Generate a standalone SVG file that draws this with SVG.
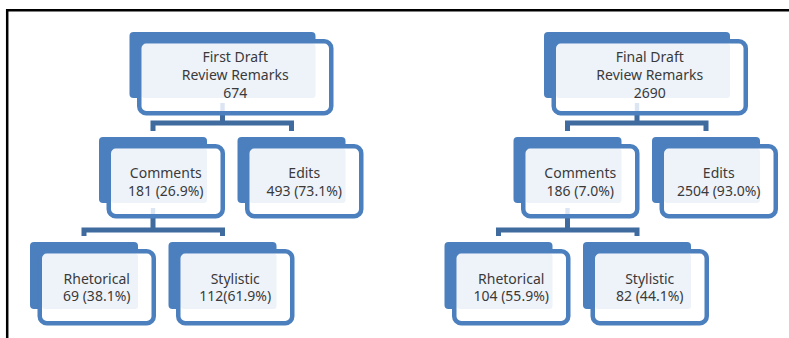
<svg xmlns="http://www.w3.org/2000/svg" width="789" height="338" viewBox="0 0 789 338">
<style>
.back{fill:#4B7FBE}
.face{fill:#FFFFFF}
.tint{fill:#EEF3FA}
.stub{fill:#DCE6F2}
.frame{fill:none;stroke:#4B7FBE;stroke-width:4.5}
.conn{fill:none;stroke:#3F6B9E;stroke-width:5}
text{font-family:"Noto Sans","Open Sans","Liberation Sans",sans-serif;font-size:14px;fill:#3A3A3A;text-anchor:middle}
</style>
<rect width="789" height="338" fill="#FFFFFF"/>
<path d="M7.2,338 V10.3 H789" fill="none" stroke="#000000" stroke-width="2.5"/>
<g id="connectors">
<path class="conn" d="M222.5,114 V123 M153,131 V123 H291.5 V131"/>
<path class="conn" d="M153,216 V230 M84,236 V230 H222.5 V236"/>
<path class="conn" d="M637,114 V123 M567.5,131 V123 H706 V131"/>
<path class="conn" d="M567.5,216 V230 M498.5,236 V230 H637 V236"/>
</g>
<g id="first-root" transform="translate(129.5,32)">
<rect class="back" width="186" height="66" rx="4"/>
<rect class="face" x="9.75" y="9.25" width="192" height="72" rx="7"/>
<rect class="tint" x="12" y="11.5" width="174" height="54.5" rx="3"/>
<rect class="stub" x="90.8" y="71" width="4.4" height="8"/>
<rect class="frame" x="9.75" y="9.25" width="192" height="72" rx="7"/>
<text><tspan x="105.75" y="30">First Draft</tspan><tspan x="105.75" y="48">Review Remarks</tspan><tspan x="105.75" y="66">674</tspan></text>
</g>
<g id="first-comments" transform="translate(99,137)">
<rect class="back" width="108" height="66" rx="4"/>
<rect class="face" x="9.75" y="9.25" width="114" height="70" rx="7"/>
<rect class="tint" x="12" y="11.5" width="96" height="54.5" rx="3"/>
<rect class="stub" x="51.8" y="71" width="4.4" height="6"/>
<rect class="frame" x="9.75" y="9.25" width="114" height="70" rx="7"/>
<text><tspan x="66.75" y="41">Comments</tspan><tspan x="66.75" y="58.5">181 (26.9%)</tspan></text>
</g>
<g id="first-edits" transform="translate(237.5,137)">
<rect class="back" width="108" height="66" rx="4"/>
<rect class="face" x="9.75" y="9.25" width="114" height="70" rx="7"/>
<rect class="tint" x="12" y="11.5" width="96" height="54.5" rx="3"/>
<rect class="frame" x="9.75" y="9.25" width="114" height="70" rx="7"/>
<text><tspan x="66.75" y="41">Edits</tspan><tspan x="66.75" y="58.5">493 (73.1%)</tspan></text>
</g>
<g id="first-rhetorical" transform="translate(30,242)">
<rect class="back" width="108" height="67" rx="4"/>
<rect class="face" x="9.75" y="9.25" width="114" height="72" rx="7"/>
<rect class="tint" x="12" y="11.5" width="96" height="55.5" rx="3"/>
<rect class="frame" x="9.75" y="9.25" width="114" height="72" rx="7"/>
<text><tspan x="66.75" y="41.5">Rhetorical</tspan><tspan x="66.75" y="59">69 (38.1%)</tspan></text>
</g>
<g id="first-stylistic" transform="translate(168.5,242)">
<rect class="back" width="108" height="67" rx="4"/>
<rect class="face" x="9.75" y="9.25" width="114" height="72" rx="7"/>
<rect class="tint" x="12" y="11.5" width="96" height="55.5" rx="3"/>
<rect class="frame" x="9.75" y="9.25" width="114" height="72" rx="7"/>
<text><tspan x="66.75" y="41.5">Stylistic</tspan><tspan x="66.75" y="59">112(61.9%)</tspan></text>
</g>
<g id="final-root" transform="translate(544,32)">
<rect class="back" width="186" height="66" rx="4"/>
<rect class="face" x="9.75" y="9.25" width="192" height="72" rx="7"/>
<rect class="tint" x="12" y="11.5" width="174" height="54.5" rx="3"/>
<rect class="stub" x="90.8" y="71" width="4.4" height="8"/>
<rect class="frame" x="9.75" y="9.25" width="192" height="72" rx="7"/>
<text><tspan x="105.75" y="30">Final Draft</tspan><tspan x="105.75" y="48">Review Remarks</tspan><tspan x="105.75" y="66">2690</tspan></text>
</g>
<g id="final-comments" transform="translate(513.5,137)">
<rect class="back" width="108" height="66" rx="4"/>
<rect class="face" x="9.75" y="9.25" width="114" height="70" rx="7"/>
<rect class="tint" x="12" y="11.5" width="96" height="54.5" rx="3"/>
<rect class="stub" x="51.8" y="71" width="4.4" height="6"/>
<rect class="frame" x="9.75" y="9.25" width="114" height="70" rx="7"/>
<text><tspan x="66.75" y="41">Comments</tspan><tspan x="66.75" y="58.5">186 (7.0%)</tspan></text>
</g>
<g id="final-edits" transform="translate(652,137)">
<rect class="back" width="108" height="66" rx="4"/>
<rect class="face" x="9.75" y="9.25" width="114" height="70" rx="7"/>
<rect class="tint" x="12" y="11.5" width="96" height="54.5" rx="3"/>
<rect class="frame" x="9.75" y="9.25" width="114" height="70" rx="7"/>
<text><tspan x="66.75" y="41">Edits</tspan><tspan x="66.75" y="58.5">2504 (93.0%)</tspan></text>
</g>
<g id="final-rhetorical" transform="translate(444.5,242)">
<rect class="back" width="108" height="67" rx="4"/>
<rect class="face" x="9.75" y="9.25" width="114" height="72" rx="7"/>
<rect class="tint" x="12" y="11.5" width="96" height="55.5" rx="3"/>
<rect class="frame" x="9.75" y="9.25" width="114" height="72" rx="7"/>
<text><tspan x="66.75" y="41.5">Rhetorical</tspan><tspan x="66.75" y="59">104 (55.9%)</tspan></text>
</g>
<g id="final-stylistic" transform="translate(583,242)">
<rect class="back" width="108" height="67" rx="4"/>
<rect class="face" x="9.75" y="9.25" width="114" height="72" rx="7"/>
<rect class="tint" x="12" y="11.5" width="96" height="55.5" rx="3"/>
<rect class="frame" x="9.75" y="9.25" width="114" height="72" rx="7"/>
<text><tspan x="66.75" y="41.5">Stylistic</tspan><tspan x="66.75" y="59">82 (44.1%)</tspan></text>
</g>
</svg>
